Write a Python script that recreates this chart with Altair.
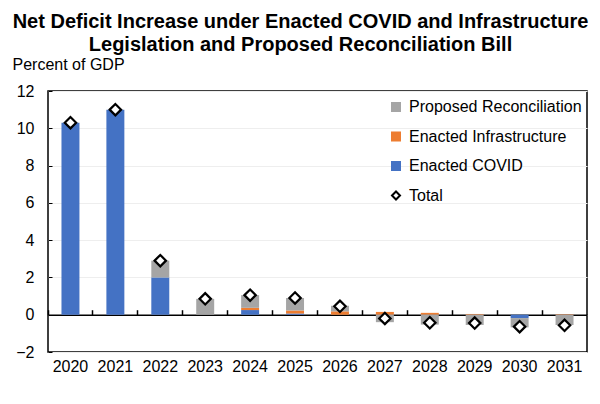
import altair as alt
import pandas as pd

years = [str(y) for y in range(2020, 2032)]
covid = [10.3, 11.0, 2.0, 0.0, 0.25, 0.07, 0.0, 0.0, 0.0, 0.0, -0.18, 0.0]
infra = [0.0, 0.0, 0.0, 0.0, 0.12, 0.15, 0.18, 0.15, 0.10, 0.04, 0.0, 0.02]
recon = [0.0, 0.0, 0.9, 0.85, 0.68, 0.68, 0.30, -0.40, -0.53, -0.55, -0.50, -0.55]
total = [10.3, 11.0, 2.9, 0.85, 1.05, 0.9, 0.45, -0.2, -0.43, -0.45, -0.64, -0.57]

series_names = ["Proposed Reconciliation", "Enacted Infrastructure", "Enacted COVID", "Total"]
fills = ["#A5A5A5", "#ED7D31", "#4472C4", "#FFFFFF"]
strokes = ["#A5A5A5", "#ED7D31", "#4472C4", "#000000"]
shapes = ["square", "square", "square", "diamond"]
y_ticks = [-2, 0, 2, 4, 6, 8, 10, 12]

rows = []
for i, yr in enumerate(years):
    rows.append({"year": yr, "series": "Enacted COVID", "value": covid[i], "rank": 0})
    rows.append({"year": yr, "series": "Enacted Infrastructure", "value": infra[i], "rank": 1})
    rows.append({"year": yr, "series": "Proposed Reconciliation", "value": recon[i], "rank": 2})
bars_df = pd.DataFrame(rows)
tot_df = pd.DataFrame({"year": years, "series": ["Total"] * len(years), "value": total})

W, H = 539, 261
YMIN, YMAX = -2, 12
zero_off = -H * (YMAX - 0) / (YMAX - YMIN)
FONT = "Liberation Sans"

x_scale = alt.Scale(domain=years, paddingInner=0, paddingOuter=0)
y_scale = alt.Scale(domain=[YMIN, YMAX], nice=False, zero=False)
fill_scale = alt.Scale(domain=series_names, range=fills)
stroke_scale = alt.Scale(domain=series_names, range=strokes)
shape_scale = alt.Scale(domain=series_names, range=shapes)

bars = alt.Chart(bars_df).mark_bar(width=alt.RelativeBandSize(0.4), strokeWidth=0).encode(
    x=alt.X("year:N", scale=x_scale, sort=years,
            axis=alt.Axis(orient="bottom", title=None, labelFontSize=16, labelColor="black",
                          labelFont=FONT, labelPadding=6, ticks=False, domain=False,
                          labelAngle=0, grid=False)),
    y=alt.Y("value:Q", stack="zero", scale=y_scale,
            axis=alt.Axis(values=y_ticks, title="Percent of GDP", titleAngle=0,
                          titleAlign="left", titleBaseline="alphabetic", titleX=-36, titleY=-22,
                          titleFontSize=16, titleFontWeight="normal", titleFont=FONT,
                          titleColor="black", labelFontSize=16, labelFont=FONT,
                          labelColor="black", labelPadding=14, ticks=False, domain=False,
                          grid=True, gridColor="#eeeeee", gridWidth=1)),
    fill=alt.Fill("series:N", scale=fill_scale, legend=alt.Legend(title=None)),
    order=alt.Order("rank:Q"),
)

points = alt.Chart(tot_df).mark_point(filled=True, size=130, strokeWidth=2.2, opacity=1).encode(
    x=alt.X("year:N", scale=x_scale, sort=years,
            axis=alt.Axis(orient="top", offset=zero_off, title=None, labels=False,
                          domainColor="black", domainWidth=1.5, tickColor="black",
                          tickSize=5, tickWidth=1.5, bandPosition=0, grid=False)),
    y=alt.Y("value:Q", scale=y_scale,
            axis=alt.Axis(orient="right", offset=-W, title=None, labels=False, domain=False,
                          grid=False, values=y_ticks, tickSize=4, tickColor="black",
                          tickWidth=1)),
    fill=alt.Fill("series:N", scale=fill_scale, legend=alt.Legend(title=None)),
    stroke=alt.Stroke("series:N", scale=stroke_scale, legend=alt.Legend(title=None)),
    shape=alt.Shape("series:N", scale=shape_scale, legend=alt.Legend(title=None)),
)

chart = alt.layer(bars, points).resolve_axis(x="independent", y="independent").properties(
    width=W, height=H,
    autosize="none",
    padding={"left": 40, "top": 83, "right": 5, "bottom": 40},
    title=alt.TitleParams(
        text=["Net Deficit Increase under Enacted COVID and Infrastructure",
              "Legislation and Proposed Reconciliation Bill"],
        fontSize=20, font=FONT, fontWeight="bold", color="black",
        anchor="middle", dx=-17, lineHeight=23, offset=1,
    ),
).configure_view(stroke="black", strokeWidth=1.5).configure_legend(
    orient="none", legendX=340, legendY=8, labelFontSize=16, labelFont=FONT,
    labelColor="black", symbolSize=64, symbolStrokeWidth=2, rowPadding=13.5,
    labelOffset=5, padding=0, labelLimit=400,
)

chart.save("out.html", embed_options={"renderer": "svg", "actions": False})
